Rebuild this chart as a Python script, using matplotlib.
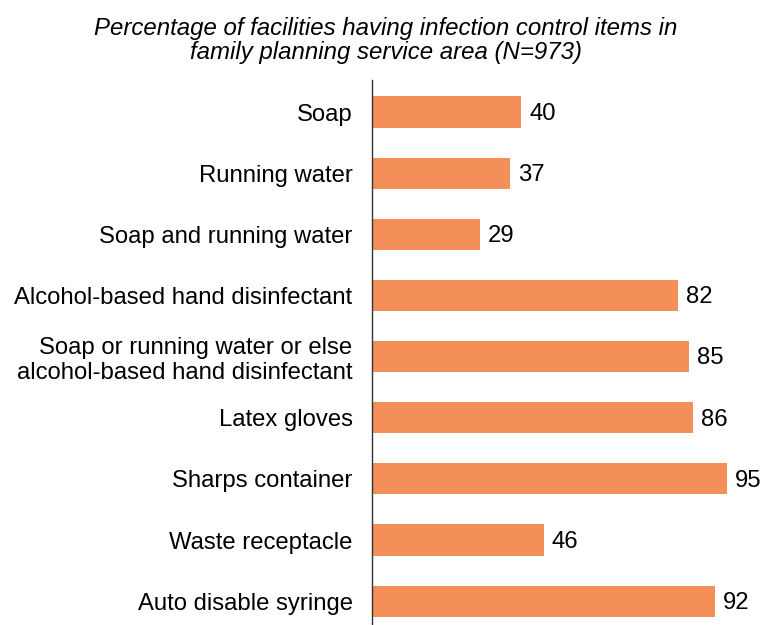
import matplotlib.pyplot as plt

plt.rcParams['font.family'] = ['Liberation Sans', 'DejaVu Sans']

items = [
    "Soap",
    "Running water",
    "Soap and running water",
    "Alcohol-based hand disinfectant",
    "Soap or running water or else\nalcohol-based hand disinfectant",
    "Latex gloves",
    "Sharps container",
    "Waste receptacle",
    "Auto disable syringe",
]
percent = [40, 37, 29, 82, 85, 86, 95, 46, 92]

title = ("Percentage of facilities having infection control items in\n"
         "family planning service area (N=973)")
bar_color = "#F58F59"


def main():
    fig = plt.figure(figsize=(7.64, 6.25), dpi=100)
    ax = fig.add_axes([0.487, 0.0, 0.513, 0.872])

    pos = list(range(len(items)))
    ax.barh(pos, percent, height=0.51, color=bar_color)
    for p, v in zip(pos, percent):
        ax.text(v + 2.1, p + 0.03, str(v), va="center", ha="left", fontsize=17.2)

    ax.set_xlim(0, 105)
    ax.set_ylim(8.39, -0.524)
    ax.set_yticks(pos)
    ax.set_yticklabels(items, fontsize=17.2, linespacing=1.17)
    ax.tick_params(axis="y", length=0, pad=14)
    ax.set_xticks([])
    for side in ["top", "right", "bottom"]:
        ax.spines[side].set_visible(False)
    ax.spines["left"].set_color("#333333")
    ax.spines["left"].set_linewidth(1.0)

    fig.text(0.505, 0.935, title, ha="center", va="center", fontsize=17.3,
             style="italic", linespacing=1.05)

    fig.savefig("out.png", dpi=100)


if __name__ == "__main__":
    main()
